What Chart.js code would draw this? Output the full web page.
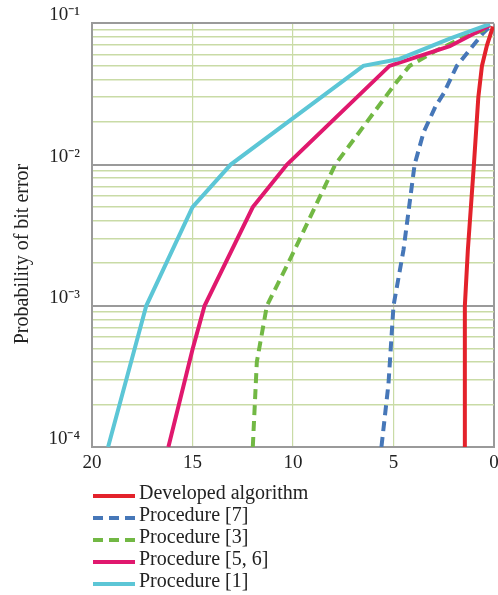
<!DOCTYPE html>
<html>
<head>
<meta charset="utf-8">
<script src="https://cdn.jsdelivr.net/npm/chart.js@4/dist/chart.umd.min.js"></script>
<style>
  html, body { margin: 0; padding: 0; background: #fff; }
  #wrap { width: 498px; height: 595px; }
</style>
</head>
<body>
<div id="wrap"><canvas id="chart"></canvas></div>
<script>
// Series data (x = value on reversed axis, y = probability of bit error)
const seriesNames = ['Developed algorithm', 'Procedure [7]', 'Procedure [3]', 'Procedure [5, 6]', 'Procedure [1]'];

const developedX = [1.45, 1.45, 1.3, 1.0, 0.78, 0.6, 0.35, 0.05];
const developedY = [1e-4, 1e-3, 2.5e-3, 1e-2, 0.03, 0.05, 0.07, 0.095];

const proc7X = [5.6, 5.25, 5.0, 4.5, 3.95, 3.5, 2.9, 2.5, 1.85, 1.1, 0.55, 0.2];
const proc7Y = [1e-4, 2.8e-4, 1e-3, 2.5e-3, 1e-2, 1.7e-2, 0.026, 0.032, 0.05, 0.068, 0.085, 0.095];

const proc3X = [12.0, 11.8, 11.3, 10.1, 7.9, 5.0, 4.2, 2.9, 1.4, 0.5, 0.2];
const proc3Y = [1e-4, 4e-4, 1e-3, 2.2e-3, 1e-2, 0.036, 0.05, 0.064, 0.081, 0.09, 0.097];

const proc56X = [16.2, 15.0, 14.4, 12.0, 10.3, 5.2, 2.2, 0.2];
const proc56Y = [1e-4, 4.9e-4, 1e-3, 5e-3, 1e-2, 0.05, 0.069, 0.097];

const proc1X = [19.2, 17.3, 15.0, 13.1, 6.5, 4.7, 2.2, 0.2];
const proc1Y = [1e-4, 1e-3, 5e-3, 1e-2, 0.05, 0.056, 0.078, 0.099];

const xTicks = [0, 5, 10, 15, 20];
const yDecades = [1e-4, 1e-3, 1e-2, 1e-1];
const yDecadeLabels = ['10\u207B\u2074', '10\u207B\u00B3', '10\u207B\u00B2', '10\u207B\u00B9'];
const yTitle = 'Probability of bit error';

const colors = ['#e3222b', '#4677b8', '#72b844', '#e0186e', '#5cc6d6'];
const dashes = [[], [10, 6], [10, 6], [], []];

const FONT = "'Liberation Serif', 'Times New Roman', serif";
const GRAY = '#9a9a9a';
const GREEN = '#c9dba6';

function toPoints(xs, ys) {
  return xs.map((x, i) => ({ x: x, y: ys[i] }));
}

function isDecade(v) {
  return yDecades.some(d => Math.abs(d - v) / d < 1e-6);
}

const allX = [developedX, proc7X, proc3X, proc56X, proc1X];
const allY = [developedY, proc7Y, proc3Y, proc56Y, proc1Y];

const datasets = seriesNames.map((name, i) => ({
  label: name,
  data: toPoints(allX[i], allY[i]),
  borderColor: colors[i],
  backgroundColor: colors[i],
  borderWidth: 4,
  borderDash: dashes[i],
  pointRadius: 0,
  tension: 0,
  fill: false,
  order: 5 - i
}));

// 凡例（縦並び）と縦軸タイトルを描画
const stackedLegend = {
  id: 'stackedLegend',
  afterDraw(chart) {
    const ctx = chart.ctx;
    ctx.save();
    chart.data.datasets.forEach((ds, i) => {
      const y = 494 + i * 22;
      ctx.beginPath();
      ctx.setLineDash(ds.borderDash);
      ctx.strokeStyle = ds.borderColor;
      ctx.lineWidth = 4;
      ctx.moveTo(93, y + 2);
      ctx.lineTo(135, y + 2);
      ctx.stroke();
      ctx.setLineDash([]);
      ctx.fillStyle = '#222';
      ctx.font = '20px ' + FONT;
      ctx.textBaseline = 'middle';
      ctx.fillText(ds.label, 139, y);
    });

    // 縦軸タイトル
    ctx.translate(23, 254);
    ctx.rotate(-Math.PI / 2);
    ctx.font = '20px ' + FONT;
    ctx.fillStyle = '#222';
    ctx.textAlign = 'center';
    ctx.textBaseline = 'middle';
    ctx.fillText(yTitle, 0, 0);
    ctx.restore();
  }
};

new Chart(document.getElementById('chart'), {
  type: 'line',
  data: { datasets: datasets },
  plugins: [stackedLegend],
  options: {
    responsive: true,
    maintainAspectRatio: false,
    animation: false,
    layout: { padding: { top: 22, right: 4, left: 0, bottom: 0 } },
    plugins: {
      legend: { display: false },
      tooltip: { enabled: false }
    },
    scales: {
      x: {
        type: 'linear',
        reverse: true,
        min: 0,
        max: 20,
        afterBuildTicks: scale => { scale.ticks = xTicks.map(v => ({ value: v })); },
        afterFit: scale => { scale.height = 148; },
        ticks: {
          color: '#222',
          font: { family: FONT, size: 19 },
          padding: 5,
          maxRotation: 0
        },
        grid: {
          color: ctx => (ctx.tick && (ctx.tick.value === 0 || ctx.tick.value === 20)) ? GRAY : GREEN,
          lineWidth: ctx => (ctx.tick && (ctx.tick.value === 0 || ctx.tick.value === 20)) ? 2 : 1.2,
          drawTicks: false
        },
        border: { color: GRAY, width: 2 }
      },
      y: {
        type: 'logarithmic',
        min: 1e-4,
        max: 1e-1,
        afterBuildTicks: scale => {
          const t = [];
          yDecades.forEach((d, k) => {
            if (k === yDecades.length - 1) { t.push({ value: d }); return; }
            for (let m = 1; m <= 9; m++) t.push({ value: d * m });
          });
          scale.ticks = t;
        },
        afterFit: scale => { scale.width = 92; },
        ticks: {
          color: '#222',
          font: { family: FONT, size: 19 },
          padding: 12,
          labelOffset: -8,
          autoSkip: false,
          callback: function (value) {
            const k = yDecades.findIndex(d => Math.abs(d - value) / d < 1e-6);
            return k >= 0 ? yDecadeLabels[k] : '';
          }
        },
        grid: {
          color: ctx => (ctx.tick && isDecade(ctx.tick.value)) ? GRAY : GREEN,
          lineWidth: ctx => (ctx.tick && isDecade(ctx.tick.value)) ? 2 : 1.6,
          drawTicks: false
        },
        border: { color: GRAY, width: 2 }
      }
    }
  }
});
</script>
</body>
</html>
